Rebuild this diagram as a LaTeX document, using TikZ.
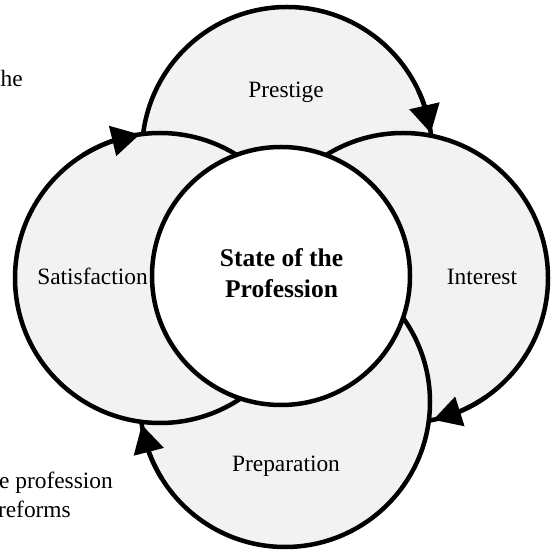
\documentclass[tikz,border=0pt]{standalone}
\usepackage{fontspec}
\setmainfont{Liberation Serif}
\usetikzlibrary{arrows.meta,bending}
\definecolor{relleno}{RGB}{242,242,242}
\begin{document}
\begin{tikzpicture}[x=1pt,y=1pt,
    ciclo/.style={draw=black,line width=4.5pt,fill=relleno},
    flecha/.style={line width=4.5pt,-{Triangle[length=28pt,width=30pt]}},
    etiqueta/.style={font=\fontsize{23.4}{28}\selectfont,anchor=base},
    titulo/.style={font=\fontsize{25.5}{31}\selectfont\bfseries,anchor=base}]
    \useasboundingbox (0,0) rectangle (552,554);

    \coordinate (Cen) at (281,278);
    \coordinate (Pre) at (287,402);
    \coordinate (Int) at (403,276);
    \coordinate (Prep) at (285,152);
    \coordinate (Sat) at (160,276);

    % Circulos exteriores
    \draw[ciclo] (Pre) circle (145);
    \draw[ciclo] (Int) circle (145);
    \draw[ciclo] (Prep) circle (145);
    \draw[ciclo] (Sat) circle (145);

    % Flechas
    \draw[flecha] ([shift={(25:145)}]Pre) arc[start angle=25,end angle=7.5,radius=145];
    \draw[flecha] ([shift={(-55:145)}]Int) arc[start angle=-55,end angle=-78,radius=145];
    \draw[flecha] ([shift={(212:145)}]Prep) arc[start angle=212,end angle=189,radius=145];
    \draw[flecha] ([shift={(122:145)}]Sat) arc[start angle=122,end angle=98,radius=145];

    % Circulo central
    \draw[ciclo,fill=white] (Cen) circle (129);

    \node[etiqueta] (prestige) at (286,456) {Prestige};
    \node[etiqueta] (interest) at (482,269) {Interest};
    \node[etiqueta] (preparation) at (286,82) {Preparation};
    \node[etiqueta] (satisfaction) at (92.5,269) {Satisfaction};
    \node[titulo] (estado) at (281.5,287) {State of the};
    \node[titulo] (profesion) at (281.5,256) {Profession};

    % Textos cortados
    \node[etiqueta,anchor=base east,inner sep=0pt] (the) at (23,467) {the};
    \node[etiqueta,anchor=base east,inner sep=0pt] (profession) at (113,65) {e profession};
    \node[etiqueta,anchor=base east,inner sep=0pt] (reforms) at (71,36) {reforms};
\end{tikzpicture}
\end{document}
